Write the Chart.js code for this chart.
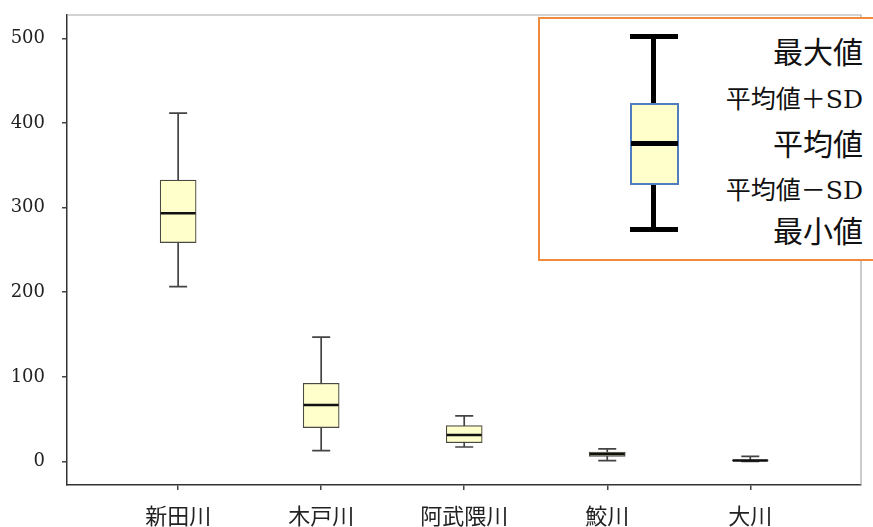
<!DOCTYPE html>
<html>
<head>
<meta charset="utf-8">
<script src="https://cdn.jsdelivr.net/npm/chart.js@4.4.1/dist/chart.umd.min.js"></script>
<style>
  html, body { margin: 0; padding: 0; background: #fff; }
  #wrap { position: relative; width: 873px; height: 527px; overflow: hidden; }
  #legend { position: absolute; left: 538px; top: 17px; width: 350px; height: 244px; box-sizing: border-box;
            border: 2px solid #F08A3C; background: #fff; }
  .lg { position: absolute; background: #000; }
  .lbox { position: absolute; box-sizing: border-box; border: 2px solid #4F7EC0; background: #FFFFCC; }
  .lt { position: absolute; right: 10px; color: #111; white-space: nowrap;
        font-family: 'DejaVu Serif', 'Noto Sans CJK JP', serif; }
  .big { font-size: 30px; line-height: 30px; height: 30px; }
  .small { font-size: 25px; line-height: 26px; height: 26px; }
</style>
</head>
<body>
<div id="wrap">
  <canvas id="boxChart" width="873" height="527"></canvas>
  <div id="legend"></div>
  <div class="lg" style="left:651px; top:37px; width:5px; height:68px;"></div>
  <div class="lg" style="left:651px; top:183px; width:5px; height:47px;"></div>
  <div class="lg" style="left:630px; top:34px; width:48px; height:5px;"></div>
  <div class="lg" style="left:630px; top:227px; width:48px; height:5px;"></div>
  <div class="lbox" style="left:630px; top:103px; width:49px; height:82px;"></div>
  <div class="lg" style="left:631px; top:141px; width:47px; height:5px;"></div>
  <div class="lt big" style="top:38px;">最大値</div>
  <div class="lt small" style="top:87px;">平均値＋SD</div>
  <div class="lt big" style="top:130px;">平均値</div>
  <div class="lt small" style="top:178px;">平均値－SD</div>
  <div class="lt big" style="top:217px;">最小値</div>
</div>
<script>
const rivers = ['新田川', '木戸川', '阿武隈川', '鮫川', '大川'];
const maxVals = [411.6, 146.8, 53.8, 14.8, 6];
const upperVals = [332.4, 92.4, 42.3, 11.2, 1.8];
const meanVals = [293.4, 66.8, 31.3, 8.9, 1.2];
const lowerVals = [258.6, 40.0, 22.2, 6.1, 0.6];
const minVals = [206.6, 12.8, 17.1, 1.0, 0.2];
const yTicks = [0, 100, 200, 300, 400, 500];

const noPad = (s) => { s.paddingTop = 0; s.paddingBottom = 0; s.paddingLeft = 0; s.paddingRight = 0; };

const boxPlot = {
  id: 'boxPlot',
  beforeDatasetsDraw(chart) {
    const { ctx, scales: { x, y } } = chart;
    ctx.save();
    ctx.strokeStyle = '#444';
    ctx.lineWidth = 1.7;
    rivers.forEach((_, i) => {
      const cx = x.getPixelForValue(i);
      const top = y.getPixelForValue(maxVals[i]);
      const bot = y.getPixelForValue(minVals[i]);
      ctx.beginPath();
      ctx.moveTo(cx, top); ctx.lineTo(cx, bot);
      ctx.moveTo(cx - 9, top); ctx.lineTo(cx + 9, top);
      ctx.moveTo(cx - 9, bot); ctx.lineTo(cx + 9, bot);
      ctx.stroke();
    });
    ctx.restore();
  },
  afterDatasetsDraw(chart) {
    const { ctx, scales: { x, y } } = chart;
    ctx.save();
    ctx.strokeStyle = '#111';
    ctx.lineWidth = 2.5;
    rivers.forEach((_, i) => {
      const cx = x.getPixelForValue(i);
      const my = y.getPixelForValue(meanVals[i]);
      ctx.beginPath();
      ctx.moveTo(cx - 17.5, my); ctx.lineTo(cx + 17.5, my);
      ctx.stroke();
    });
    ctx.restore();
  },
  afterDraw(chart) {
    const { ctx, chartArea: a } = chart;
    ctx.save();
    ctx.strokeStyle = '#a8a8a8';
    ctx.lineWidth = 1.2;
    ctx.beginPath();
    ctx.moveTo(a.left, a.top); ctx.lineTo(a.right, a.top); ctx.lineTo(a.right, a.bottom);
    ctx.stroke();
    ctx.restore();
  },
};

new Chart(document.getElementById('boxChart'), {
  type: 'bar',
  data: {
    datasets: [{
      data: rivers.map((_, i) => ({ x: i, y: [lowerVals[i], upperVals[i]] })),
      backgroundColor: '#FFFFCC',
      borderColor: '#4a4a42',
      borderWidth: 1.2,
      borderSkipped: false,
      barThickness: 36,
    }],
  },
  options: {
    responsive: false,
    animation: false,
    layout: { padding: { top: 15, right: 12, left: 0, bottom: 0 } },
    plugins: { legend: { display: false }, tooltip: { enabled: false } },
    scales: {
      x: {
        type: 'linear',
        offset: false,
        min: -0.777,
        max: 4.774,
        afterBuildTicks: (s) => { s.ticks = rivers.map((_, i) => ({ value: i })); },
        afterFit: (s) => { s.height = 42; noPad(s); },
        ticks: {
          callback: (v) => rivers[v],
          autoSkip: false, maxRotation: 0, padding: 12, color: '#222',
          font: { family: "'Noto Sans CJK JP', sans-serif", size: 22 },
        },
        grid: { offset: false, drawOnChartArea: false, tickLength: 5, color: '#444', lineWidth: 1.5 },
        border: { color: '#333', width: 1.5 },
      },
      y: {
        min: -27.8,
        max: 527.5,
        afterBuildTicks: (s) => { s.ticks = yTicks.map((v) => ({ value: v })); },
        afterFit: (s) => { s.width = 67; noPad(s); },
        ticks: { padding: 17, color: '#222', font: { family: "'DejaVu Serif', serif", size: 18 } },
        grid: { drawOnChartArea: false, tickLength: 5, color: '#444', lineWidth: 1.5 },
        border: { color: '#333', width: 1.5 },
      },
    },
  },
  plugins: [boxPlot],
});
</script>
</body>
</html>
